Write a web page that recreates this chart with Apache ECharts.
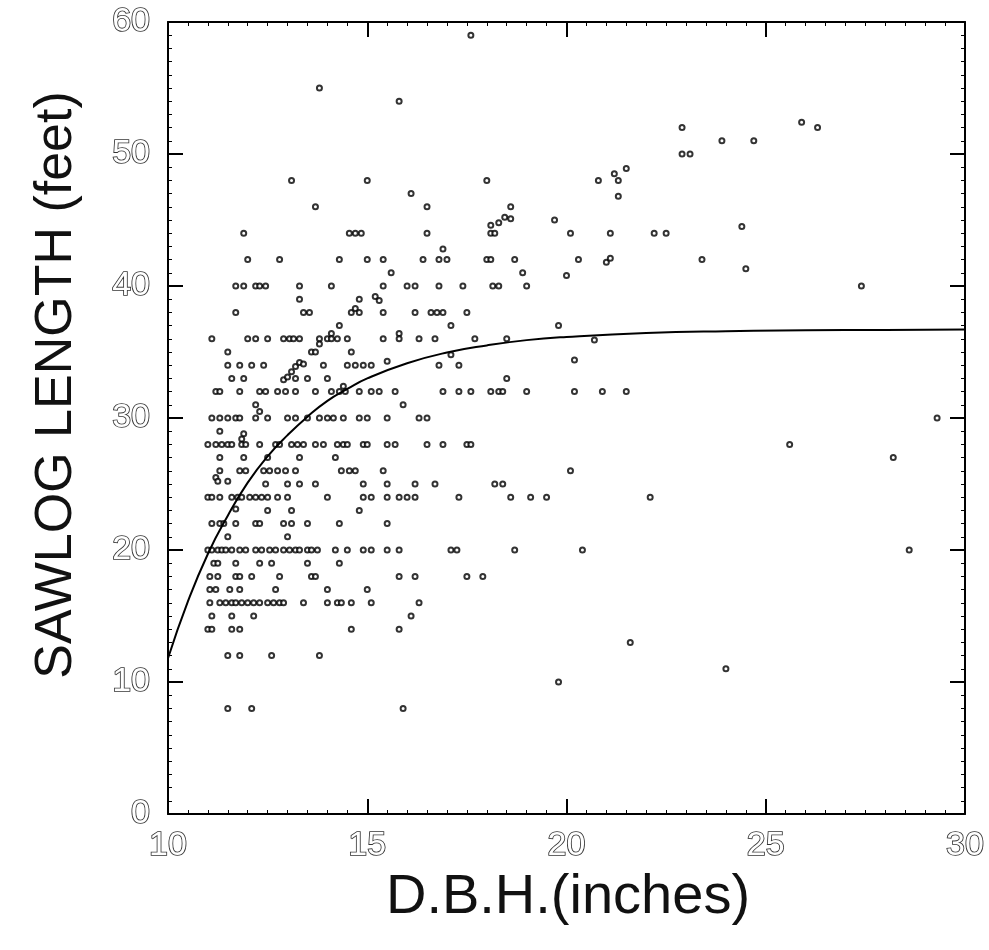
<!DOCTYPE html>
<html>
<head>
<meta charset="utf-8">
<script src="https://cdn.jsdelivr.net/npm/echarts@6/dist/echarts.min.js"></script>
<style>
html,body{margin:0;padding:0;background:#fff;}
#chart{width:989px;height:950px;}
</style>
</head>
<body>
<div id="chart"></div>
<script>
// ---- data ----
const xTicks = [10, 15, 20, 25, 30];
const yTicks = [0, 10, 20, 30, 40, 50, 60];
const xTitle = 'D.B.H.(inches)';
const yTitle = 'SAWLOG LENGTH (feet)';

// observed trees: [D.B.H. inches, sawlog length feet]
const pointsTop = [
  [13.8,55],[17.6,59],[15.8,54],[13.1,48],[15.0,48],[13.7,46],[18.0,48],[16.1,47],[16.5,46],[18.6,46],
  [18.3,44.8],[18.45,45.2],[18.6,45.1],[19.7,45],
  [20.8,48],[21.2,48.5],[21.5,48.9],[21.3,48],[21.3,46.8],[22.9,52],[22.9,50],[23.1,50],[23.9,51],[24.7,51],[25.9,52.4],[26.3,52]
];
const pointsRight = [
  [22.5,44],[24.4,44.5],[23.4,42],[24.5,41.3],[27.4,40],[29.3,30],[25.6,28],[28.2,27],[28.6,20],[24.0,11],
  [21.6,13],[19.8,10]
];
const pointsLeftUpper = [
  [11.9,44],[12.0,42],[12.8,42],
  [11.7,40],[11.9,40],[12.2,40],[12.3,40],[12.45,40],[13.3,40],[13.3,39],[11.7,38],[13.4,38],
  [11.1,36],[12.0,36],[12.2,36],[12.5,36],[12.9,36],[13.05,36],[13.15,36],[13.3,36],[11.5,35],
  [11.5,34],[11.8,34],[12.1,34],[12.4,34],[13.1,33.5],[13.2,33.9],[13.3,34.2],[13.4,34.1],
  [11.6,33],[11.9,33],[12.9,32.9],[13.0,33.1],[13.2,33],[13.5,33],
  [11.2,32],[11.3,32],[11.8,32],[12.3,32],[12.45,32],[12.75,32],[12.95,32],[13.2,32],
  [12.2,31],[12.3,30.5],
  [11.1,30],[11.3,30],[11.5,30],[11.7,30],[11.8,30],[12.2,30],[12.5,30],[13.0,30],[13.2,30],[13.5,30]
];
const pointsMidUpper = [
  [14.55,44],[14.7,44],[14.85,44],[16.5,44],[16.9,42.8],
  [14.3,42],[15.0,42],[15.4,42],[16.4,42],[16.8,42],[17.0,42],[15.6,41],
  [14.1,40],[15.4,40],[16.0,40],[16.2,40],[16.8,40],
  [14.8,39],[15.2,39.2],[15.3,38.9],
  [13.55,38],[14.6,38],[14.7,38.3],[14.8,38],[15.4,38],[16.2,38],[16.6,38],[16.75,38],[16.9,38],
  [14.3,37],[17.1,37],[14.1,36.4],[15.8,36.4],
  [13.8,36],[14.0,36],[14.1,36],[14.25,36],[14.5,36],[15.4,36],[15.8,36],[16.3,36],[16.7,36],[13.8,35.6],
  [13.6,35],[13.7,35],[14.6,35],
  [13.9,34],[14.5,34],[14.7,34],[14.9,34],[15.1,34],[15.5,34.3],[16.8,34],[17.3,34],[17.1,34.8],
  [14.0,33],[14.4,32.4],
  [13.7,32],[14.1,32],[14.3,32],[14.45,32],[14.8,32],[15.1,32],[15.3,32],[15.7,32],[16.9,32],[17.3,32],
  [15.9,31],
  [13.8,30],[14.0,30],[14.15,30],[14.4,30],[14.8,30],[15.0,30],[15.5,30],[16.3,30],[16.5,30]
];
const pointsRightUpper = [
  [18.1,44.6],[18.1,44],[18.2,44],[20.1,44],[21.1,44],[22.2,44],
  [18.0,42],[18.1,42],[18.7,42],[20.3,42],[21.0,41.8],[21.1,42.1],[18.9,41],[20.0,40.8],
  [17.4,40],[18.15,40],[18.3,40],[19.0,40],[17.5,38],[19.8,37],
  [17.7,36],[18.5,36],[20.7,35.9],[20.2,34.4],[18.5,33],
  [17.6,32],[18.1,32],[18.3,32],[18.4,32],[19.0,32],[20.2,32],[20.9,32],[21.5,32]
];
const pointsLeftLower = [
  [11.3,29],[11.9,28.8],[11.85,28.4],
  [11.0,28],[11.2,28],[11.35,28],[11.5,28],[11.6,28],[11.85,28],[11.95,28],[12.3,28],[12.7,28],[12.8,28],[13.1,28],[13.25,28],[13.4,28],
  [11.3,27],[11.9,27],[12.5,27],[13.3,27],
  [11.3,26],[11.8,26],[11.95,26],[12.4,26],[12.55,26],[12.75,26],[12.95,26],[13.2,26],
  [11.2,25.5],[11.25,25.2],[11.5,25.2],[12.45,25],[13.0,25],[13.3,25],
  [11.0,24],[11.1,24],[11.3,24],[11.6,24],[11.75,24],[11.85,24],[12.05,24],[12.2,24],[12.35,24],[12.5,24],[12.75,24],[13.0,24],
  [11.7,23.1],[12.5,23],[13.1,23],
  [11.1,22],[11.3,22],[11.4,22],[11.7,22],[12.2,22],[12.3,22],[12.9,22],[13.1,22],[13.5,22],
  [11.5,21],[13.0,21],
  [11.0,20],[11.1,20],[11.25,20],[11.35,20],[11.45,20],[11.6,20],[11.8,20],[11.95,20],[12.2,20],[12.35,20],[12.55,20],[12.7,20],[12.9,20],[13.05,20],[13.2,20],[13.3,20],[13.5,20],
  [11.15,19],[11.25,19],[11.7,19],[12.3,19],[12.6,19],[13.5,19],
  [11.05,18],[11.25,18],[11.7,18],[11.8,18],[12.1,18],[12.8,18],
  [11.05,17],[11.2,17],[11.55,17],[11.8,17],[12.7,17],
  [11.05,16],[11.3,16],[11.45,16],[11.6,16],[11.7,16],[11.85,16],[12.0,16],[12.15,16],[12.3,16],[12.5,16],[12.65,16],[12.8,16],[12.9,16],[13.4,16],
  [11.1,15],[11.6,15],[12.15,15],
  [11.0,14],[11.1,14],[11.6,14],[11.8,14],[14.6,14],[15.8,14],
  [11.5,12],[11.8,12],[12.6,12],[13.8,12],
  [11.5,8],[12.1,8],[15.9,8]
];
const pointsMidLower = [
  [13.7,28],[13.9,28],[14.25,28],[14.4,28],[14.5,28],[14.9,28],[15.0,28],[15.5,28],[15.7,28],[16.5,28],[16.9,28],
  [14.2,27],[14.35,26],[14.55,26],[14.7,26],[15.4,26],
  [13.7,25],[14.9,25],[15.5,25],[16.2,25],[16.7,25],
  [14.0,24],[14.9,24],[15.1,24],[15.5,24],[15.8,24],[16.0,24],[16.2,24],[17.3,24],
  [14.8,23],[14.3,22],[15.5,22],
  [13.6,20],[13.75,20],[14.2,20],[14.5,20],[14.9,20],[15.1,20],[15.5,20],[15.8,20],[17.1,20],[17.25,20],
  [14.3,19],[13.6,18],[13.7,18],[15.8,18],[16.2,18],
  [14.0,17],[15.0,17],
  [14.0,16],[14.25,16],[14.35,16],[14.6,16],[15.1,16],[16.3,16],[16.1,15],
  [17.5,28],[17.6,28],[20.1,26],[18.2,25],[18.4,25],
  [18.6,24],[19.1,24],[19.5,24],[22.1,24],[18.7,20],[20.4,20],[17.5,18],[17.9,18]
];

// fitted curve
const curveDbh    = [10, 10.5, 11, 11.5, 12, 12.5, 13, 13.5, 14, 14.5, 15, 16, 17, 18, 19, 20, 22, 24, 26, 28, 30];
const curveLength = [11.8, 16.1, 19.7, 22.6, 25.1, 27.1, 28.7, 30.1, 31.3, 32.2, 33.0, 34.15, 34.96, 35.5, 35.9, 36.14, 36.44, 36.58, 36.64, 36.67, 36.7];

// ---- chart ----
const allPoints = [].concat(pointsTop, pointsRight, pointsLeftUpper, pointsMidUpper,
  pointsRightUpper, pointsLeftLower, pointsMidLower);
const curveData = curveDbh.map((x, i) => [x, curveLength[i]]);

const chart = echarts.init(document.getElementById('chart'), null, {renderer: 'canvas'});

const tickFont = {
  fontFamily: 'Liberation Sans',
  fontSize: 34,
  color: '#ffffff',
  textBorderColor: '#333',
  textBorderWidth: 1.7
};
const lineStyle = {color: '#000', width: 2};

const baseX = {
  type: 'value', min: xTicks[0], max: xTicks[xTicks.length - 1], interval: 5,
  axisLine: {show: true, onZero: false, lineStyle},
  axisTick: {show: true, inside: true, length: 15, lineStyle},
  minorTick: {show: true, splitNumber: 10, length: 4, lineStyle: {color: '#000', width: 1}},
  splitLine: {show: false}
};
const baseY = {
  type: 'value', min: yTicks[0], max: yTicks[yTicks.length - 1], interval: 10,
  axisLine: {show: true, onZero: false, lineStyle},
  axisTick: {show: true, inside: true, length: 15, lineStyle},
  minorTick: {show: true, splitNumber: 10, length: 4, lineStyle: {color: '#000', width: 1}},
  splitLine: {show: false}
};

chart.setOption({
  backgroundColor: '#ffffff',
  animation: false,
  grid: {left: 168, right: 24, top: 22, bottom: 136, outerBoundsMode: 'none', containLabel: false},
  xAxis: [
    Object.assign({}, baseX, {position: 'bottom',
      axisLabel: Object.assign({show: true, margin: 15}, tickFont)}),
    Object.assign({}, baseX, {position: 'top', axisLabel: {show: false}})
  ],
  yAxis: [
    Object.assign({}, baseY, {position: 'left',
      axisLabel: Object.assign({show: true, margin: 18}, tickFont)}),
    Object.assign({}, baseY, {position: 'right', axisLabel: {show: false}})
  ],
  graphic: [
    {type: 'text', x: 57, y: 385, rotation: Math.PI / 2,
      style: {text: yTitle, fontFamily: 'Liberation Sans', fontSize: 52, fill: '#111',
        textAlign: 'center', textVerticalAlign: 'middle'}},
    {type: 'text', x: 568, y: 898,
      style: {text: xTitle, fontFamily: 'Liberation Sans', fontSize: 56, fill: '#111',
        textAlign: 'center', textVerticalAlign: 'middle'}}
  ],
  series: [
    {
      type: 'scatter', xAxisIndex: 0, yAxisIndex: 0,
      data: allPoints,
      symbol: 'emptyCircle', symbolSize: 5,
      itemStyle: {color: '#000', borderColor: '#000', borderWidth: 1.4}
    },
    {
      type: 'line', xAxisIndex: 0, yAxisIndex: 0,
      data: curveData, smooth: true, showSymbol: false, symbol: 'none',
      lineStyle: {color: '#000', width: 2}
    }
  ]
});
</script>
</body>
</html>
